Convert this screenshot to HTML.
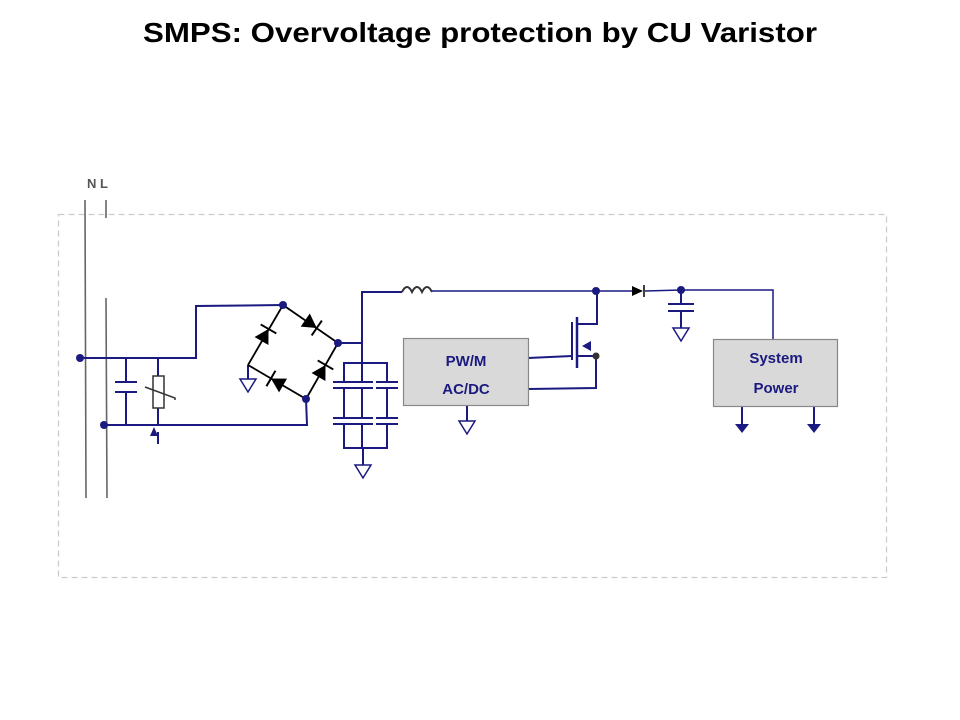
<!DOCTYPE html>
<html><head><meta charset="utf-8"><style>
html,body{margin:0;padding:0;background:#fff;}
svg{display:block;}
</style></head><body>
<svg width="960" height="720" viewBox="0 0 960 720" xmlns="http://www.w3.org/2000/svg">
<defs>
<g id="d"><polygon points="-7,-8 -7,8 7,0" fill="#000"/><line x1="7" y1="-9" x2="7" y2="9" stroke="#000" stroke-width="2"/></g>
<g id="gnd"><polygon points="-8,0 8,0 0,13" fill="#fff" stroke="#1a1a80" stroke-width="1.5"/></g>
</defs>
<text x="480" y="42" text-anchor="middle" font-family="Liberation Sans, sans-serif" font-weight="bold" font-size="28" textLength="674" lengthAdjust="spacingAndGlyphs" fill="#000">SMPS: Overvoltage protection by CU Varistor</text>

<rect x="58.5" y="214.5" width="828" height="363" fill="none" stroke="#ccc" stroke-width="1.3" stroke-dasharray="6,4"/>

<text x="87" y="188" font-family="Liberation Sans, sans-serif" font-weight="bold" font-size="13" fill="#555">N L</text>
<g stroke="#666" stroke-width="1.6">
<line x1="85" y1="200" x2="86" y2="498"/>
<line x1="106" y1="200" x2="106" y2="218"/>
<line x1="106" y1="298" x2="107" y2="498"/>
</g>

<g stroke="#1a1a80" stroke-width="2" fill="none">
<polyline points="80,358 196,358 196,306 283,305"/>
<polyline points="104,425 307,425 306,399"/>
<line x1="126" y1="358" x2="126" y2="382"/><line x1="126" y1="392" x2="126" y2="425"/>
<line x1="115" y1="382" x2="137" y2="382"/><line x1="115" y1="392" x2="137" y2="392"/>
<line x1="158" y1="358" x2="158" y2="376"/><line x1="158" y1="408" x2="158" y2="425"/>
<rect x="153" y="376" width="11" height="32" stroke="#333" stroke-width="1.5"/>
<polyline points="145,387 175,398 175,400" stroke="#333" stroke-width="1.5"/>
<line x1="158" y1="444" x2="158" y2="432"/>
<polyline points="338,343 362,343 362,292 402,292"/>
<path d="M402,292 q5,-10 10,0 q5,-10 10,0 q5,-10 10,0" stroke="#333"/>
<line x1="432" y1="291" x2="596" y2="291" stroke-width="1.5"/>
<polyline points="344,382 344,363 387,363 387,382"/>
<line x1="362" y1="343" x2="362" y2="382"/>
<line x1="344" y1="388" x2="344" y2="418"/><line x1="362" y1="388" x2="362" y2="418"/><line x1="387" y1="388" x2="387" y2="418"/>
<polyline points="344,424 344,448 387,448 387,424"/>
<line x1="362" y1="424" x2="362" y2="448"/><line x1="363" y1="448" x2="363" y2="465"/>
<line x1="248" y1="365" x2="248" y2="379"/>
<line x1="467" y1="405" x2="467" y2="421"/>
<polyline points="528,358 572,356"/>
<polyline points="577,324 597,324 597,291"/>
<polyline points="577,356 596,356 596,388 528,389"/>
<line x1="645" y1="291" x2="681" y2="290" stroke-width="1.5"/>
<polyline points="681,290 773,290 773,339" stroke-width="1.5"/>
<line x1="681" y1="290" x2="681" y2="304"/><line x1="681" y1="311" x2="681" y2="328"/>
<line x1="742" y1="406" x2="742" y2="424"/><line x1="814" y1="406" x2="814" y2="424"/>
<line x1="596" y1="291" x2="632" y2="291" stroke-width="1.5"/>
</g>
<g stroke="#1a1a80" stroke-width="2">
<line x1="333" y1="382" x2="355" y2="382"/><line x1="333" y1="388" x2="355" y2="388"/>
<line x1="351" y1="382" x2="373" y2="382"/><line x1="351" y1="388" x2="373" y2="388"/>
<line x1="376" y1="382" x2="398" y2="382"/><line x1="376" y1="388" x2="398" y2="388"/>
<line x1="333" y1="418" x2="355" y2="418"/><line x1="333" y1="424" x2="355" y2="424"/>
<line x1="351" y1="418" x2="373" y2="418"/><line x1="351" y1="424" x2="373" y2="424"/>
<line x1="376" y1="418" x2="398" y2="418"/><line x1="376" y1="424" x2="398" y2="424"/>
<line x1="668" y1="304" x2="694" y2="304"/><line x1="668" y1="311" x2="694" y2="311"/>
<line x1="572" y1="322" x2="572" y2="360"/>
<line x1="577" y1="317" x2="577" y2="368" stroke-width="2.5"/>
</g>
<polygon points="154,427 150,436 158,436" fill="#1a1a80"/>
<polygon points="582,346 591,341 591,351" fill="#1a1a80"/>
<polygon points="735,424 749,424 742,433" fill="#1a1a80"/>
<polygon points="807,424 821,424 814,433" fill="#1a1a80"/>

<g stroke="#000" stroke-width="1.8">
<line x1="248" y1="365" x2="283" y2="305"/>
<line x1="283" y1="305" x2="338" y2="343"/>
<line x1="248" y1="365" x2="306" y2="399"/>
<line x1="306" y1="399" x2="338" y2="343"/>
</g>
<use href="#d" transform="translate(265,335) rotate(-60)"/>
<use href="#d" transform="translate(311,324) rotate(34.6)"/>
<use href="#d" transform="translate(277,382) rotate(210)"/>
<use href="#d" transform="translate(322,371) rotate(-60)"/>
<polygon points="632,286 632,296 643,291" fill="#000"/><line x1="644" y1="285" x2="644" y2="297" stroke="#000" stroke-width="1.5"/>

<use href="#gnd" transform="translate(248,379)"/>
<use href="#gnd" transform="translate(363,465)"/>
<use href="#gnd" transform="translate(467,421)"/>
<use href="#gnd" transform="translate(681,328)"/>

<g fill="#1a1a80">
<circle cx="80" cy="358" r="4"/><circle cx="104" cy="425" r="4"/>
<circle cx="283" cy="305" r="4"/><circle cx="338" cy="343" r="4"/>
<circle cx="306" cy="399" r="4"/><circle cx="596" cy="291" r="4"/>
<circle cx="681" cy="290" r="4"/>
</g>
<circle cx="596" cy="356" r="3.5" fill="#333"/>

<rect x="403.5" y="338.5" width="125" height="67" fill="#d9d9d9" stroke="#888" stroke-width="1.2"/>
<text x="466" y="366" text-anchor="middle" font-family="Liberation Sans, sans-serif" font-weight="bold" font-size="15" fill="#1a1a80">PW/M</text>
<text x="466" y="394" text-anchor="middle" font-family="Liberation Sans, sans-serif" font-weight="bold" font-size="15" fill="#1a1a80">AC/DC</text>
<rect x="713.5" y="339.5" width="124" height="67" fill="#d9d9d9" stroke="#888" stroke-width="1.2"/>
<text x="776" y="363" text-anchor="middle" font-family="Liberation Sans, sans-serif" font-weight="bold" font-size="15" fill="#1a1a80">System</text>
<text x="776" y="393" text-anchor="middle" font-family="Liberation Sans, sans-serif" font-weight="bold" font-size="15" fill="#1a1a80">Power</text>
</svg>
</body></html>
